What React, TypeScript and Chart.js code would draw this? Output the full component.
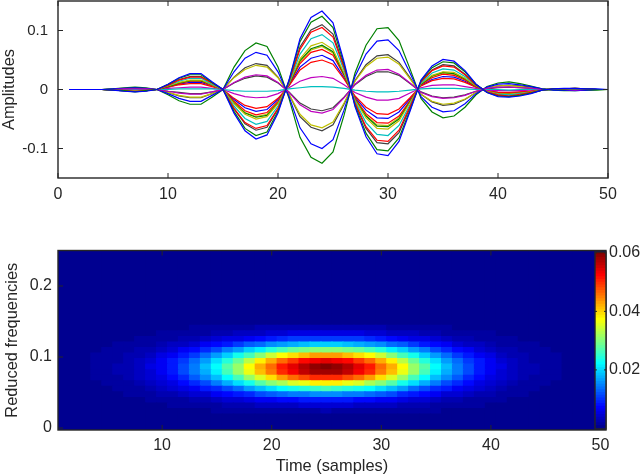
import { useEffect, useRef } from 'react'
import Chart from 'chart.js/auto'

// Top panel: one sample per unit of time, t = 1..50
const timeSamples = [
  1, 2, 3, 4, 5, 6, 7, 8, 9, 10, 11, 12, 13, 14, 15, 16, 17, 18, 19, 20, 21, 22, 23, 24, 25,
  26, 27, 28, 29, 30, 31, 32, 33, 34, 35, 36, 37, 38, 39, 40, 41, 42, 43, 44, 45, 46, 47, 48, 49, 50,
]
const amplitudeTicks = [-0.1, 0, 0.1]
const timeTicksTop = [0, 10, 20, 30, 40, 50]

const curveA = [0, 0, 0, 0, -.001, -.003, -.004, -.003, 0, .009, .020, .027, .027, .013, 0, -.040, -.070, -.084, -.077, -.040, .016, .086, .122, .133, .113, .047, -.029, -.080, -.109, -.112, -.088, -.037, .016, .040, .051, .048, .032, .009, -.005, -.012, -.013, -.011, -.007, -.001, .001, .002, .002, .001, .001, 0]
const curveB = [0, 0, 0, 0, -.001, -.002, -.004, -.002, 0, .009, .019, .025, .025, .012, 0, -.037, -.066, -.078, -.072, -.037, .015, .081, .114, .124, .105, .043, -.027, -.074, -.102, -.104, -.082, -.035, .015, .037, .047, .045, .030, .009, -.005, -.011, -.012, -.010, -.006, -.001, .001, .001, .002, .001, 0, 0]
const curveC = [0, 0, 0, 0, -.001, -.002, -.003, -.002, 0, .007, .016, .021, .021, .011, 0, -.032, -.056, -.066, -.061, -.032, .013, .068, .097, .105, .089, .037, -.023, -.063, -.086, -.088, -.069, -.029, .013, .032, .040, .038, .025, .007, -.004, -.009, -.011, -.008, -.005, -.001, .001, .001, .002, .001, 0, 0]
const curveD = [0, 0, 0, 0, -.001, -.002, -.003, -.002, 0, .007, .014, .019, .019, .009, 0, -.028, -.049, -.059, -.054, -.028, .011, .060, .086, .093, .079, .033, -.020, -.056, -.076, -.078, -.061, -.026, .011, .028, .035, .033, .022, .007, -.004, -.008, -.009, -.007, -.005, -.001, 0, .001, .001, .001, 0, 0]
const curveE = [0, 0, 0, 0, 0, .001, .001, .001, 0, -.003, -.006, -.008, -.008, -.004, 0, .012, .021, .025, .023, .012, -.005, -.026, -.037, -.040, -.034, -.014, .009, .024, .033, .034, .026, .011, -.005, -.012, -.015, -.014, -.010, -.003, .002, .004, .004, .003, .002, 0, 0, 0, -.001, 0, 0, 0]
const curveF = [0, 0, 0, 0, -.001, -.002, -.002, -.002, 0, .006, .012, .016, .016, .008, 0, -.024, -.042, -.050, -.046, -.024, .010, .052, .074, .080, .068, .028, -.018, -.048, -.066, -.067, -.053, -.022, .010, .024, .030, .029, .019, .006, -.003, -.007, -.008, -.006, -.004, -.001, 0, .001, .001, .001, 0, 0]
const curveG = [0, 0, 0, 0, -.001, -.002, -.003, -.002, 0, .008, .017, .022, .022, .011, 0, -.033, -.058, -.069, -.064, -.033, .013, .072, .101, .110, .094, .039, -.024, -.066, -.090, -.092, -.073, -.031, .013, .033, .042, .040, .026, .008, -.004, -.010, -.011, -.009, -.006, -.001, .001, .001, .002, .001, 0, 0]
const curveH = [0, 0, 0, 0, .001, .002, .003, .002, 0, -.007, -.015, -.020, -.020, -.010, 0, .030, .053, .063, .058, .030, -.012, -.065, -.092, -.100, -.085, -.035, .022, .060, .082, .084, .066, .028, -.012, -.030, -.038, -.036, -.024, -.007, .004, .009, .010, .008, .005, .001, -.001, -.001, -.002, -.001, 0, 0]
const curveI = [0, 0, 0, 0, -.001, -.002, -.002, -.002, 0, .005, .011, .015, .015, .008, 0, -.023, -.040, -.047, -.044, -.023, .009, .049, .069, .075, .064, .026, -.017, -.045, -.062, -.063, -.050, -.021, .009, .023, .029, .027, .018, .005, -.003, -.007, -.008, -.006, -.004, -.001, 0, .001, .001, .001, 0, 0]
const curveJ = [0, 0, 0, 0, -.001, -.001, -.002, -.001, 0, .005, .010, .014, .014, .007, 0, -.020, -.036, -.043, -.039, -.020, .008, .044, .063, .068, .058, .024, -.015, -.041, -.056, -.057, -.045, -.019, .008, .020, .026, .024, .016, .005, -.003, -.006, -.007, -.005, -.003, -.001, 0, .001, .001, .001, 0, 0]
const curveK = [0, 0, 0, 0, 0, 0, 0, 0, 0, 0, .001, .001, .001, .001, 0, -.002, -.003, -.003, -.003, -.002, .001, .003, .005, .005, .004, .002, -.001, -.003, -.004, -.004, -.003, -.001, .001, .002, .002, .002, .001, 0, 0, 0, -.001, 0, 0, 0, 0, 0, 0, 0, 0, 0]
const curveL = [0, 0, 0, 0, 0, 0, -.001, 0, 0, .002, .003, .004, .004, .002, 0, -.007, -.012, -.014, -.013, -.007, .003, .014, .020, .022, .019, .008, -.005, -.013, -.018, -.018, -.015, -.006, .003, .007, .008, .008, .005, .002, -.001, -.002, -.002, -.002, -.001, 0, 0, 0, 0, 0, 0, 0]
const curveM = [0, 0, 0, 0, -.001, -.001, -.002, -.001, 0, .005, .011, .015, .015, .007, 0, -.022, -.039, -.046, -.042, -.022, .009, .047, .067, .073, .062, .026, -.016, -.044, -.060, -.061, -.048, -.020, .009, .022, .028, .026, .018, .005, -.003, -.007, -.007, -.006, -.004, -.001, 0, .001, .001, .001, 0, 0]
const curveN = [0, 0, 0, 0, 0, .001, .001, .001, 0, -.003, -.005, -.007, -.007, -.004, 0, .011, .019, .023, .021, .011, -.004, -.023, -.033, -.036, -.031, -.013, .008, .022, .030, .030, .024, .010, -.004, -.011, -.014, -.013, -.009, -.003, .001, .003, .004, .003, .002, 0, 0, 0, -.001, 0, 0, 0]
const curveO = [0, 0, 0, 0, 0, -.001, -.002, -.001, 0, .004, .008, .010, .010, .005, 0, -.015, -.027, -.032, -.029, -.015, .006, .033, .046, .050, .043, .018, -.011, -.030, -.041, -.042, -.033, -.014, .006, .015, .019, .018, .012, .004, -.002, -.005, -.005, -.004, -.003, -.001, 0, .001, .001, .001, 0, 0]
const curveP = [0, 0, 0, 0, .001, .003, .004, .003, 0, -.009, -.019, -.025, -.025, -.013, 0, .038, .066, .079, .073, .038, -.015, -.081, -.115, -.125, -.106, -.044, .028, .075, .103, .105, .083, .035, -.015, -.038, -.048, -.045, -.030, -.009, .005, .011, .013, .010, .006, .001, -.001, -.002, -.002, -.001, -.001, 0]
const curveQ = [0, 0, 0, 0, .001, .001, .002, .001, 0, -.005, -.010, -.013, -.013, -.007, 0, .020, .034, .041, .038, .020, -.008, -.042, -.060, -.065, -.055, -.023, .014, .039, .053, .055, .043, .018, -.008, -.020, -.025, -.023, -.016, -.005, .003, .006, .007, .005, .003, .001, 0, -.001, -.001, -.001, 0, 0]
const curveR = [0, 0, 0, 0, .001, .001, .002, .001, 0, -.005, -.011, -.014, -.014, -.007, 0, .021, .037, .044, .041, .021, -.008, -.046, -.064, -.070, -.060, -.025, .015, .042, .057, .059, .046, .020, -.008, -.021, -.027, -.025, -.017, -.005, .003, .006, .007, .006, .004, .001, 0, -.001, -.001, -.001, 0, 0]
const curveS = [0, 0, 0, 0, 0, -.001, -.002, -.001, 0, .004, .009, .012, .012, .006, 0, -.017, -.031, -.037, -.034, -.017, .007, .038, .053, .058, .049, .020, -.013, -.035, -.048, -.049, -.038, -.016, .007, .017, .022, .021, .014, .004, -.002, -.005, -.006, -.005, -.003, -.001, 0, .001, .001, .001, 0, 0]

const curves = [curveA, curveB, curveC, curveD, curveE, curveF, curveG, curveH, curveI, curveJ, curveK, curveL, curveM, curveN, curveO, curveP, curveQ, curveR, curveS]

const BLUE = '#0000ff'
const GREEN = '#008000'
const RED = '#ff0000'
const CYAN = '#00bfbf'
const MAGENTA = '#bf00bf'
const OLIVE = '#bfbf00'
const GRAY = '#404040'
const curveColors = [BLUE, GREEN, RED, CYAN, MAGENTA, OLIVE, GRAY, BLUE, GREEN, RED, CYAN, MAGENTA, OLIVE, GRAY, RED, GREEN, OLIVE, GRAY, BLUE]

// Bottom panel: time-frequency energy, in units of 0.001, row by row (frequency bin = row / 128)
const heatTimes = timeSamples.map(String)
const frequencyTicks = [0, 0.1, 0.2]
const timeTicksBottom = [10, 20, 30, 40, 50]
const blank = [0, 0, 0, 0, 0, 0, 0, 0, 0, 0, 0, 0, 0, 0, 0, 0, 0, 0, 0, 0, 0, 0, 0, 0, 0, 0, 0, 0, 0, 0, 0, 0, 0, 0, 0, 0, 0, 0, 0, 0, 0, 0, 0, 0, 0, 0, 0, 0, 0, 0]
const bin3 = [0, 0, 0, 0, 0, 0, 0, 0, 0, 0, 0, 0, 0, 0, 1, 1, 1, 1, 1, 1, 1, 1, 1, 1, 2, 1, 1, 1, 1, 1, 1, 1, 1, 1, 1, 0, 0, 0, 0, 0, 0, 0, 0, 0, 0, 0, 0, 0, 0, 0]
const bin4 = [0, 0, 0, 0, 0, 0, 0, 0, 0, 0, 1, 1, 1, 1, 1, 2, 2, 2, 3, 3, 3, 3, 4, 4, 4, 4, 4, 3, 3, 3, 3, 2, 2, 2, 1, 1, 1, 1, 1, 0, 0, 0, 0, 0, 0, 0, 0, 0, 0, 0]
const bin5 = [0, 0, 0, 0, 0, 0, 0, 0, 1, 1, 1, 1, 2, 2, 3, 4, 4, 5, 6, 6, 7, 7, 8, 8, 8, 8, 8, 7, 7, 6, 6, 5, 4, 4, 3, 2, 2, 1, 1, 1, 1, 0, 0, 0, 0, 0, 0, 0, 0, 0]
const bin6 = [0, 0, 0, 0, 0, 0, 1, 1, 1, 2, 2, 3, 4, 4, 6, 7, 8, 9, 11, 12, 13, 14, 14, 15, 15, 15, 14, 14, 13, 12, 11, 9, 8, 7, 6, 4, 4, 3, 2, 2, 1, 1, 1, 0, 0, 0, 0, 0, 0, 0]
const bin7 = [0, 0, 0, 0, 0, 1, 1, 1, 2, 3, 4, 5, 6, 8, 9, 11, 13, 16, 18, 20, 22, 23, 24, 25, 26, 25, 24, 23, 22, 20, 18, 16, 13, 11, 9, 8, 6, 5, 4, 3, 2, 1, 1, 1, 0, 0, 0, 0, 0, 0]
const bin8 = [0, 0, 0, 0, 1, 1, 1, 2, 3, 4, 5, 7, 9, 11, 14, 17, 20, 23, 27, 30, 32, 35, 36, 38, 38, 38, 36, 35, 32, 30, 27, 23, 20, 17, 14, 11, 9, 7, 5, 4, 3, 2, 1, 1, 1, 0, 0, 0, 0, 0]
const bin9 = [0, 0, 0, 1, 1, 1, 2, 3, 4, 5, 7, 9, 12, 15, 18, 22, 26, 31, 35, 39, 43, 46, 48, 50, 50, 50, 48, 46, 43, 39, 35, 31, 26, 22, 18, 15, 12, 9, 7, 5, 4, 3, 2, 1, 1, 1, 0, 0, 0, 0]
const bin10 = [0, 0, 0, 1, 1, 2, 2, 3, 4, 6, 8, 11, 14, 17, 21, 26, 31, 36, 41, 45, 50, 53, 56, 58, 58, 58, 56, 53, 50, 45, 41, 36, 31, 26, 21, 17, 14, 11, 8, 6, 4, 3, 2, 2, 1, 1, 0, 0, 0, 0]
const bin11 = [0, 0, 0, 1, 1, 2, 2, 3, 5, 6, 8, 11, 14, 18, 22, 27, 31, 37, 42, 46, 51, 54, 57, 59, 60, 59, 57, 54, 51, 46, 42, 37, 31, 27, 22, 18, 14, 11, 8, 6, 5, 3, 2, 2, 1, 1, 0, 0, 0, 0]
const bin12 = [0, 0, 0, 1, 1, 1, 2, 3, 4, 6, 8, 10, 13, 16, 20, 24, 28, 33, 38, 42, 46, 49, 52, 53, 54, 53, 52, 49, 46, 42, 38, 33, 28, 24, 20, 16, 13, 10, 8, 6, 4, 3, 2, 1, 1, 1, 0, 0, 0, 0]
const bin13 = [0, 0, 0, 1, 1, 1, 2, 2, 3, 5, 6, 8, 10, 13, 16, 19, 23, 26, 30, 34, 37, 39, 41, 43, 43, 43, 41, 39, 37, 34, 30, 26, 23, 19, 16, 13, 10, 8, 6, 5, 3, 2, 2, 1, 1, 1, 0, 0, 0, 0]
const bin14 = [0, 0, 0, 0, 1, 1, 1, 2, 2, 3, 4, 6, 7, 9, 11, 14, 16, 19, 21, 24, 26, 28, 29, 30, 30, 30, 29, 28, 26, 24, 21, 19, 16, 14, 11, 9, 7, 6, 4, 3, 2, 2, 1, 1, 1, 0, 0, 0, 0, 0]
const bin15 = [0, 0, 0, 0, 0, 1, 1, 1, 1, 2, 3, 3, 4, 6, 7, 8, 10, 12, 13, 15, 16, 17, 18, 19, 19, 19, 18, 17, 16, 15, 13, 12, 10, 8, 7, 6, 4, 3, 3, 2, 1, 1, 1, 1, 0, 0, 0, 0, 0, 0]
const bin16 = [0, 0, 0, 0, 0, 0, 0, 1, 1, 1, 1, 2, 2, 3, 4, 5, 5, 6, 7, 8, 9, 10, 10, 10, 10, 10, 10, 10, 9, 8, 7, 6, 5, 5, 4, 3, 2, 2, 1, 1, 1, 1, 0, 0, 0, 0, 0, 0, 0, 0]
const bin17 = [0, 0, 0, 0, 0, 0, 0, 0, 0, 1, 1, 1, 1, 1, 2, 2, 3, 3, 3, 4, 4, 5, 5, 5, 5, 5, 5, 5, 4, 4, 3, 3, 3, 2, 2, 1, 1, 1, 1, 1, 0, 0, 0, 0, 0, 0, 0, 0, 0, 0]
const bin18 = [0, 0, 0, 0, 0, 0, 0, 0, 0, 0, 0, 0, 1, 1, 1, 1, 1, 1, 2, 2, 2, 2, 2, 2, 2, 2, 2, 2, 2, 2, 1, 1, 1, 1, 1, 1, 0, 0, 0, 0, 0, 0, 0, 0, 0, 0, 0, 0, 0, 0]

const heatRows = [
  blank, blank, blank, bin3, bin4, bin5, bin6, bin7, bin8, bin9, bin10, bin11, bin12, bin13, bin14, bin15, bin16, bin17, bin18,
  blank, blank, blank, blank, blank, blank, blank, blank, blank, blank, blank, blank, blank, blank,
]

const colorbarTicks = [0.02, 0.04, 0.06]
const COLOR_MAX = 60
const COLOR_LEVELS = 64

const INK = '#262626'
const FONT = 'Liberation Sans, Arial, sans-serif'

function jet(level: number) {
  const v = Math.min(1, Math.max(0, level)) * 0.984 + 0.016
  const ch = (c: number) => Math.round(255 * Math.min(1, Math.max(0, 1.5 - Math.abs(4 * v - c))))
  return `rgb(${ch(3)},${ch(2)},${ch(1)})`
}

// MATLAB style box: all four sides, ticks pointing inwards on both sides
const frame = (tick: number) => ({
  id: 'frame',
  afterDraw(chart: any) {
    const { ctx, chartArea: a, scales } = chart
    ctx.save()
    ctx.strokeStyle = INK
    ctx.lineWidth = 1
    Object.values(scales).forEach((s: any) => {
      if (!s.options.display) return
      s.ticks.forEach((_: any, i: number) => {
        const p = s.getPixelForTick(i)
        ctx.beginPath()
        if (s.isHorizontal()) {
          ctx.moveTo(p, a.top)
          ctx.lineTo(p, a.top + tick)
          ctx.moveTo(p, a.bottom)
          ctx.lineTo(p, a.bottom - tick)
        } else {
          ctx.moveTo(a.left, p)
          ctx.lineTo(a.left + tick, p)
          ctx.moveTo(a.right, p)
          ctx.lineTo(a.right - tick, p)
        }
        ctx.stroke()
      })
    })
    ctx.lineWidth = 1.4
    ctx.strokeRect(a.left, a.top, a.right - a.left, a.bottom - a.top)
    ctx.restore()
  },
})

// Tick labels must not push the plot area in: each panel is placed by hand
const noMargins = (s: any) => {
  s.paddingTop = 0
  s.paddingBottom = 0
  s.paddingLeft = 0
  s.paddingRight = 0
}

const tickFont = { family: FONT, size: 16 }
const titleFont = { family: FONT, size: 16.4 }
const tickStyle = { color: INK, font: tickFont, maxRotation: 0, autoSkip: false }
const noGrid = { display: false, drawTicks: false }

export default function App() {
  const topRef = useRef<HTMLCanvasElement>(null)
  const heatRef = useRef<HTMLCanvasElement>(null)
  const barRef = useRef<HTMLCanvasElement>(null)

  useEffect(() => {
    if (!topRef.current || !heatRef.current || !barRef.current) return

    const top = new Chart(topRef.current, {
      type: 'line',
      data: {
        datasets: curves.map((values, i) => ({
          data: values.map((y, j) => ({ x: timeSamples[j], y })),
          borderColor: curveColors[i],
          borderWidth: 1.2,
          pointRadius: 0,
          tension: 0,
        })),
      },
      options: {
        animation: false,
        responsive: false,
        layout: { padding: { top: 1, right: 32 } },
        plugins: { legend: { display: false }, tooltip: { enabled: false } },
        scales: {
          x: {
            type: 'linear',
            min: 0,
            max: 50,
            grid: noGrid,
            border: { display: false },
            ticks: { ...tickStyle, padding: 7, callback: v => String(v) },
            afterBuildTicks: s => { s.ticks = timeTicksTop.map(value => ({ value })) },
            afterFit: s => { noMargins(s); s.height = 37 },
          },
          y: {
            min: -0.15,
            max: 0.15,
            grid: noGrid,
            border: { display: false },
            ticks: { ...tickStyle, font: { family: FONT, size: 15 }, padding: 10, callback: v => String(v) },
            afterBuildTicks: s => { s.ticks = amplitudeTicks.map(value => ({ value })) },
            afterFit: s => { noMargins(s); s.width = 58 },
            title: { display: true, text: 'Amplitudes', color: INK, font: titleFont, padding: 0 },
          },
        },
      },
      plugins: [frame(5)],
    })

    const heat = new Chart(heatRef.current, {
      type: 'bar',
      data: {
        labels: heatTimes,
        datasets: heatRows.map((row, r) => ({
          data: row.map(() => [(r - 0.5) / 128, (r + 0.5) / 128]),
          backgroundColor: row.map(v => jet(v / COLOR_MAX)),
          borderWidth: 0,
          inflateAmount: 0.6,
          grouped: false,
          barPercentage: 1,
          categoryPercentage: 1,
        })),
      },
      options: {
        animation: false,
        responsive: false,
        layout: { padding: { top: 15.5, right: 34 } },
        plugins: { legend: { display: false }, tooltip: { enabled: false } },
        scales: {
          x: {
            grid: noGrid,
            border: { display: false },
            ticks: { ...tickStyle, padding: 6 },
            afterBuildTicks: s => {
              s.ticks = s.ticks.filter(t => timeTicksBottom.includes(Number(s.getLabelForValue(t.value))))
            },
            afterFit: s => { noMargins(s); s.height = 45 },
            title: { display: true, text: 'Time (samples)', color: INK, font: titleFont, padding: { top: 0, bottom: -1 } },
          },
          y: {
            min: -0.0028,
            max: 0.25,
            grid: noGrid,
            border: { display: false },
            ticks: { ...tickStyle, padding: 6, callback: v => String(v) },
            afterBuildTicks: s => { s.ticks = frequencyTicks.map(value => ({ value })) },
            afterFit: s => { noMargins(s); s.width = 58 },
            title: { display: true, text: 'Reduced frequencies', color: INK, font: titleFont, padding: { top: 3, bottom: 0 } },
          },
        },
      },
      plugins: [frame(5)],
    })

    const levels = Array.from({ length: COLOR_LEVELS }, (_, i) => i)
    const bar = new Chart(barRef.current, {
      type: 'bar',
      data: {
        labels: [''],
        datasets: levels.map(i => ({
          data: [[(i / COLOR_LEVELS) * 0.0603, ((i + 1) / COLOR_LEVELS) * 0.0603]],
          backgroundColor: jet(i / (COLOR_LEVELS - 1)),
          borderWidth: 0,
          inflateAmount: 0.6,
          grouped: false,
          barPercentage: 1,
          categoryPercentage: 1,
        })),
      },
      options: {
        animation: false,
        responsive: false,
        layout: { padding: { left: 15, top: 12, bottom: 11 } },
        plugins: { legend: { display: false }, tooltip: { enabled: false } },
        scales: {
          x: { display: false },
          y: {
            position: 'right',
            min: -0.0002,
            max: 0.0603,
            grid: noGrid,
            border: { display: false },
            ticks: { ...tickStyle, padding: 3, callback: v => String(v) },
            afterBuildTicks: s => { s.ticks = colorbarTicks.map(value => ({ value })) },
            afterFit: s => { noMargins(s); s.width = 34 },
          },
        },
      },
      plugins: [frame(2)],
    })

    return () => {
      top.destroy()
      heat.destroy()
      bar.destroy()
    }
  }, [])

  return (
    <div style={{ position: 'absolute', left: 0, top: 0, width: 640, height: 475, background: '#fff' }}>
      <canvas ref={topRef} width={640} height={215} style={{ position: 'absolute', left: 0, top: 0 }} />
      <canvas ref={heatRef} width={640} height={240} style={{ position: 'absolute', left: 0, top: 235 }} />
      <canvas ref={barRef} width={60} height={200} style={{ position: 'absolute', left: 580, top: 240 }} />
    </div>
  )
}
